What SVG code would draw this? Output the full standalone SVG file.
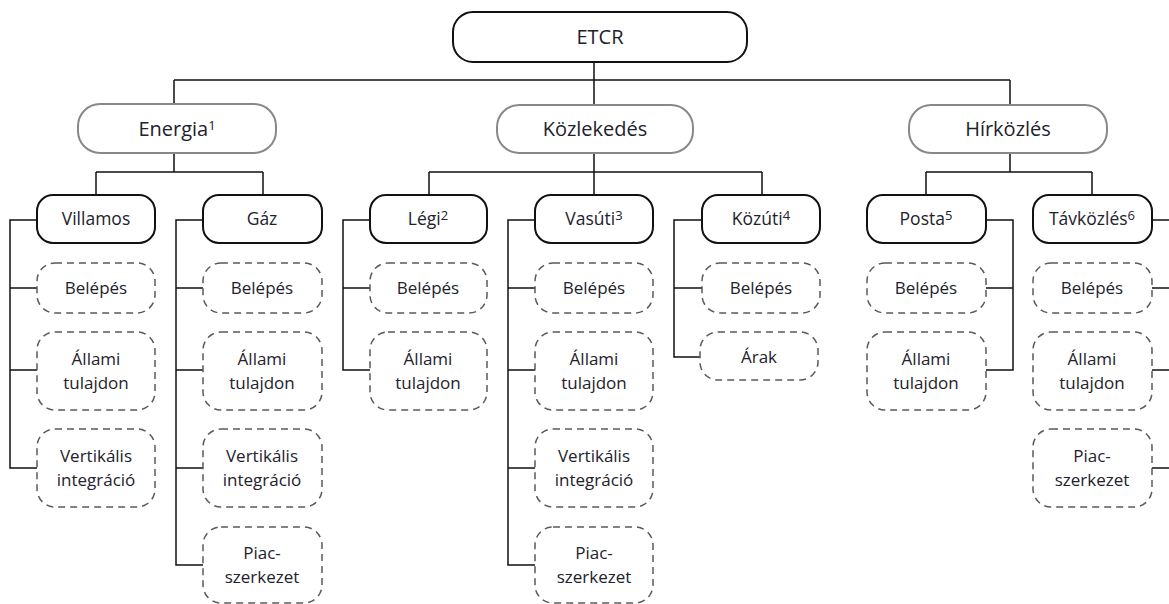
<svg xmlns="http://www.w3.org/2000/svg" width="1169" height="604" viewBox="0 0 1169 604">
<style>
text{font-family:"Open Sans","Noto Sans","Liberation Sans",sans-serif;fill:#22222c;text-anchor:middle}
.t1{font-size:20px}
.t2{font-size:17.5px}
.t3{font-size:17px}
.sup{font-size:13px}
.root{fill:#fff;stroke:#111;stroke-width:2}
.cat{fill:#fff;stroke:#888;stroke-width:2}
.sub{fill:#fff;stroke:#111;stroke-width:2}
.leaf{fill:#fff;stroke:#5a5a5a;stroke-width:1.5;stroke-dasharray:7 5}
.c{fill:none;stroke:#111;stroke-width:1.5}
</style>
<rect width="1169" height="604" fill="#fff"/>
<g id="connectors">
<path class="c" d="M594 62V105M174 80H1010M174 80V104M1010 80V105"/>
<path class="c" d="M174 153V172M96 172H263M96 172V195M263 172V195"/>
<path class="c" d="M594 153V195M429 172H762M429 172V195M762 172V195"/>
<path class="c" d="M1010 153V172M926 172H1092M926 172V195M1092 172V195"/>
<path class="c" d="M37 220H10V468H37M10 288H37M10 370H37"/>
<path class="c" d="M203 220H176V565H203M176 288H203M176 370H203M176 468H203"/>
<path class="c" d="M370 220H343V370H370M343 288H370"/>
<path class="c" d="M535 220H508V565H535M508 288H535M508 370H535M508 468H535"/>
<path class="c" d="M702 220H674V357H700M674 288H702"/>
<path class="c" d="M986 220H1013V370H986M1013 288H986"/>
<path class="c" d="M1152 220H1175V468H1152M1175 288H1152M1175 370H1152"/>
</g>
<g id="etcr"><rect class="root" x="453" y="12" width="294" height="50" rx="20"/><text class="t1" x="600" y="44">ETCR</text></g>
<g id="energia"><rect class="cat" x="78" y="104" width="198" height="49" rx="22"/><text class="t1" x="177" y="136">Energia<tspan class="sup" dy="-6">1</tspan></text></g>
<g id="kozlekedes"><rect class="cat" x="497" y="105" width="196" height="48" rx="22"/><text class="t1" x="595" y="136">Közlekedés</text></g>
<g id="hirkozles"><rect class="cat" x="909" y="105" width="198" height="48" rx="22"/><text class="t1" x="1008" y="136">Hírközlés</text></g>

<g id="villamos"><rect class="sub" x="37" y="195" width="118" height="48" rx="16"/><text class="t2" x="96" y="225">Villamos</text></g>
<g id="gaz"><rect class="sub" x="203" y="195" width="119" height="48" rx="16"/><text class="t2" x="262" y="225">Gáz</text></g>
<g id="legi"><rect class="sub" x="370" y="195" width="117" height="48" rx="16"/><text class="t2" x="428" y="225">Légi<tspan class="sup" dy="-5">2</tspan></text></g>
<g id="vasuti"><rect class="sub" x="535" y="195" width="118" height="48" rx="16"/><text class="t2" x="594" y="225">Vasúti<tspan class="sup" dy="-5">3</tspan></text></g>
<g id="kozuti"><rect class="sub" x="702" y="195" width="118" height="48" rx="16"/><text class="t2" x="761" y="225">Közúti<tspan class="sup" dy="-5">4</tspan></text></g>
<g id="posta"><rect class="sub" x="867" y="195" width="119" height="48" rx="16"/><text class="t2" x="926" y="225">Posta<tspan class="sup" dy="-5">5</tspan></text></g>
<g id="tavkozles"><rect class="sub" x="1033" y="195" width="119" height="48" rx="16"/><text class="t2" x="1092" y="225">Távközlés<tspan class="sup" dy="-5">6</tspan></text></g>

<g id="villamos-belepes"><rect class="leaf" x="37" y="263" width="118" height="50" rx="18"/><text class="t3" x="96" y="294">Belépés</text></g>
<g id="villamos-allami"><rect class="leaf" x="37" y="332" width="118" height="78" rx="18"/><text class="t3" x="96" y="365">Állami<tspan x="96" dy="24">tulajdon</tspan></text></g>
<g id="villamos-vertikalis"><rect class="leaf" x="37" y="429" width="118" height="78" rx="18"/><text class="t3" x="96" y="462">Vertikális<tspan x="96" dy="24">integráció</tspan></text></g>

<g id="gaz-belepes"><rect class="leaf" x="203" y="263" width="119" height="50" rx="18"/><text class="t3" x="262" y="294">Belépés</text></g>
<g id="gaz-allami"><rect class="leaf" x="203" y="332" width="119" height="78" rx="18"/><text class="t3" x="262" y="365">Állami<tspan x="262" dy="24">tulajdon</tspan></text></g>
<g id="gaz-vertikalis"><rect class="leaf" x="203" y="429" width="119" height="78" rx="18"/><text class="t3" x="262" y="462">Vertikális<tspan x="262" dy="24">integráció</tspan></text></g>
<g id="gaz-piac"><rect class="leaf" x="203" y="527" width="119" height="76" rx="18"/><text class="t3" x="262" y="559">Piac-<tspan x="262" dy="24">szerkezet</tspan></text></g>

<g id="legi-belepes"><rect class="leaf" x="370" y="263" width="117" height="50" rx="18"/><text class="t3" x="428" y="294">Belépés</text></g>
<g id="legi-allami"><rect class="leaf" x="370" y="332" width="117" height="78" rx="18"/><text class="t3" x="428" y="365">Állami<tspan x="428" dy="24">tulajdon</tspan></text></g>

<g id="vasuti-belepes"><rect class="leaf" x="535" y="263" width="118" height="50" rx="18"/><text class="t3" x="594" y="294">Belépés</text></g>
<g id="vasuti-allami"><rect class="leaf" x="535" y="332" width="118" height="78" rx="18"/><text class="t3" x="594" y="365">Állami<tspan x="594" dy="24">tulajdon</tspan></text></g>
<g id="vasuti-vertikalis"><rect class="leaf" x="535" y="429" width="118" height="78" rx="18"/><text class="t3" x="594" y="462">Vertikális<tspan x="594" dy="24">integráció</tspan></text></g>
<g id="vasuti-piac"><rect class="leaf" x="535" y="527" width="118" height="76" rx="18"/><text class="t3" x="594" y="559">Piac-<tspan x="594" dy="24">szerkezet</tspan></text></g>

<g id="kozuti-belepes"><rect class="leaf" x="702" y="263" width="118" height="50" rx="18"/><text class="t3" x="761" y="294">Belépés</text></g>
<g id="kozuti-arak"><rect class="leaf" x="700" y="332" width="118" height="48" rx="18"/><text class="t3" x="759" y="363">Árak</text></g>

<g id="posta-belepes"><rect class="leaf" x="867" y="263" width="119" height="50" rx="18"/><text class="t3" x="926" y="294">Belépés</text></g>
<g id="posta-allami"><rect class="leaf" x="867" y="332" width="119" height="78" rx="18"/><text class="t3" x="926" y="365">Állami<tspan x="926" dy="24">tulajdon</tspan></text></g>

<g id="tavkozles-belepes"><rect class="leaf" x="1033" y="263" width="119" height="50" rx="18"/><text class="t3" x="1092" y="294">Belépés</text></g>
<g id="tavkozles-allami"><rect class="leaf" x="1033" y="332" width="119" height="78" rx="18"/><text class="t3" x="1092" y="365">Állami<tspan x="1092" dy="24">tulajdon</tspan></text></g>
<g id="tavkozles-piac"><rect class="leaf" x="1033" y="429" width="119" height="78" rx="18"/><text class="t3" x="1092" y="462">Piac-<tspan x="1092" dy="24">szerkezet</tspan></text></g>
</svg>
